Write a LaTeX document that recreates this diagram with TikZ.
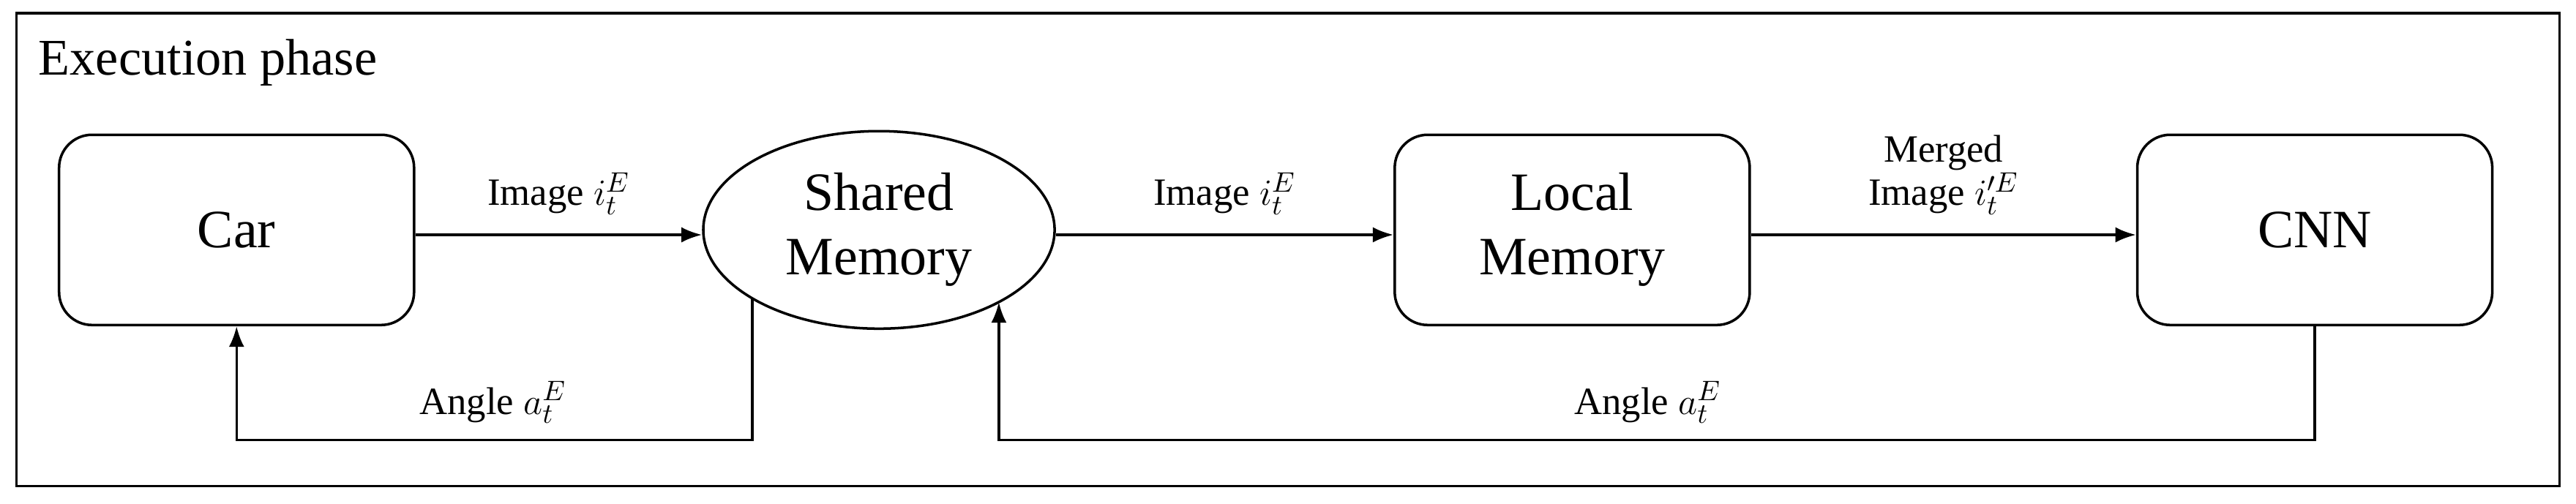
\documentclass[tikz,border=0pt]{standalone}
\usepackage{fontspec}
\setmainfont{Liberation Serif}
\usetikzlibrary{shapes.geometric,arrows.meta,calc}
\begin{document}
\begin{tikzpicture}[x=0.02245cm,y=-0.02245cm,
  box/.style={draw,line width=1pt,rounded corners=0.45cm,minimum width=4.85cm,minimum height=2.6cm,align=center,font=\fontsize{21}{25}\selectfont},
  arr/.style={line width=1pt,-{Latex[length=8pt,width=6pt]}},
  lab/.style={font=\fontsize{15}{17}\selectfont,align=center}]
\useasboundingbox (0,0) rectangle (1568,306.5);
\draw[line width=1pt] (10,8) rectangle (1558,296);
\node[anchor=west,font=\fontsize{20}{23}\selectfont] (title) at (18,38) {Execution phase};
\node[box] (car) at (144,140) {Car};
\node[draw,line width=1pt,ellipse,minimum width=4.8cm,minimum height=2.7cm,align=center,font=\fontsize{21}{25}\selectfont,inner sep=0pt] (sm) at (535,140) {Shared\\Memory};
\node[box] (lm) at (957,140) {Local\\Memory};
\node[box] (cnn) at (1409,140) {CNN};
\draw[arr] (car.east |- 0,143) -- (sm.west |- 0,143) node[lab,midway,above=4pt] {Image $i_t^E$};
\draw[arr] (sm.east |- 0,143) -- (lm.west |- 0,143) node[lab,midway,above=4pt] {Image $i_t^E$};
\draw[arr] (lm.east |- 0,143) -- (cnn.west |- 0,143) node[lab,midway,above=4pt] {Merged\\Image $i'^E_t$};
\coordinate (s1) at ($(sm.center)+(-77,42)$);
\coordinate (s2) at ($(sm.center)+(73,44)$);
\draw[arr] (s1) -- (s1 |- 0,268) -- (car.south |- 0,268) -- (car.south);
\node[lab] (l1) at (300,245) {Angle $a_t^E$};
\draw[arr] (cnn.south) -- (cnn.south |- 0,268) -- (s2 |- 0,268) -- (s2);
\node[lab] (l2) at (1003,245) {Angle $a_t^E$};
\end{tikzpicture}
\end{document}
